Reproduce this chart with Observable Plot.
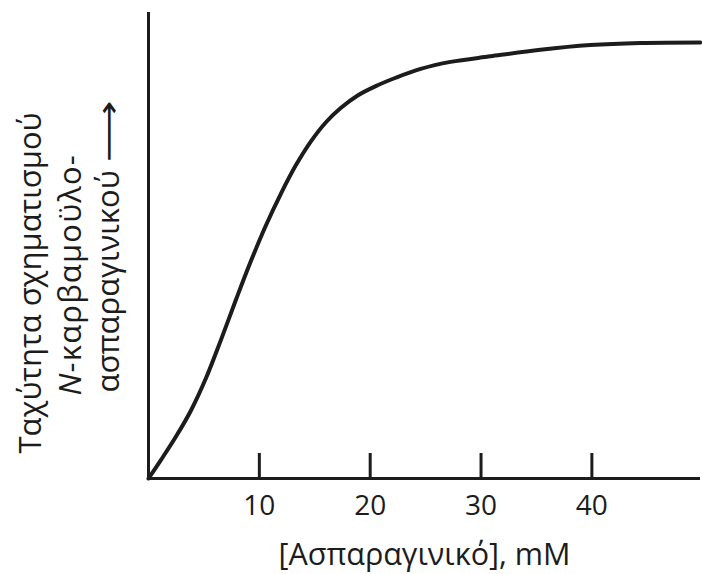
<!DOCTYPE html>
<html>
<head>
<meta charset="utf-8">
<script src="https://cdn.jsdelivr.net/npm/d3@7"></script>
<script src="https://cdn.jsdelivr.net/npm/@observablehq/plot@0.6"></script>
<style>
  html, body { margin: 0; padding: 0; background: #fff; }
</style>
</head>
<body>
<div id="chart"></div>
<script>
// [Asparagine] concentration, mM
const asparagine = [0, 1.13, 2.48, 3.83, 5.18, 6.53, 7.88, 9.23, 10.59, 11.94, 13.29, 14.64, 15.99, 17.34, 18.87, 20.5, 22.3, 24.55, 27.25, 30.86, 35.36, 39.86, 44.37, 49.77];
// Rate of N-carbamoyl-aspartate formation (relative units, axis top = 100)
const rate = [0, 4.0, 9.0, 14.6, 21.5, 29.7, 38.3, 46.6, 54.3, 61.1, 67.2, 72.3, 76.4, 79.5, 82.2, 84.2, 86.0, 87.9, 89.4, 90.6, 92.0, 93.0, 93.45, 93.56];
const xTicks = [10, 20, 30, 40];
const xLabel = "[Ασπαραγινικό], mM";
const yLabelLines = ["Ταχύτητα σχηματισμού", "N-καρβαμοϋλο-", "ασπαραγινικού ⟶"];

const data = asparagine.map((x, i) => ({x, y: rate[i]}));
const ink = "#1c1c1c";

const chart = Plot.plot({
  width: 702,
  height: 574,
  marginLeft: 148,
  marginRight: 2,
  marginTop: 12,
  marginBottom: 96,
  style: {fontFamily: "'Open Sans', 'DejaVu Sans', sans-serif", background: "#fff", color: ink},
  x: {domain: [0, 49.8], axis: null},
  y: {domain: [0, 100], axis: null},
  marks: [
    Plot.axisX(xTicks, {tickSize: 0, tickPadding: 17, fontSize: 28, label: null, fill: ink}),
    Plot.tickX(xTicks, {x: d => d, insetTop: 441, strokeWidth: 3, stroke: ink}),
    Plot.ruleX([0], {strokeWidth: 3, stroke: ink}),
    Plot.ruleY([0], {strokeWidth: 3, stroke: ink}),
    Plot.line(data, {x: "x", y: "y", curve: "catmull-rom", strokeWidth: 4, stroke: ink}),
    Plot.text([xLabel], {text: d => d, frameAnchor: "bottom", lineAnchor: "bottom", dy: 86, fontSize: 30.5, fill: ink}),
    Plot.text([yLabelLines[0]], {text: d => d, frameAnchor: "bottom-left", textAnchor: "start", lineAnchor: "bottom", rotate: -90, dx: -108, dy: -25, fontSize: 31, fill: ink}),
    Plot.text([yLabelLines[1]], {text: d => d, frameAnchor: "bottom-left", textAnchor: "start", lineAnchor: "bottom", rotate: -90, dx: -68, dy: -83, fontSize: 31, fill: ink}),
    Plot.text([yLabelLines[2]], {text: d => d, frameAnchor: "bottom-left", textAnchor: "start", lineAnchor: "bottom", rotate: -90, dx: -30, dy: -86, fontSize: 31, fill: ink})
  ]
});

document.getElementById("chart").appendChild(chart);

// Italic "N" and a long arrow, as in the original label
d3.select(chart).selectAll("text").each(function() {
  const el = d3.select(this);
  const t = this.textContent;
  if (t === yLabelLines[1]) {
    el.text(null);
    el.attr("letter-spacing", "1.2");
    el.append("tspan").attr("font-style", "italic").text("N");
    el.append("tspan").text(t.slice(1));
  } else if (t === yLabelLines[2]) {
    const parts = t.split(" ");
    el.text(null);
    el.append("tspan").text(parts[0] + " ");
    el.append("tspan")
      .attr("font-family", "'DejaVu Sans', sans-serif")
      .attr("textLength", 62)
      .attr("lengthAdjust", "spacingAndGlyphs")
      .text(parts[1]);
  }
});
</script>
</body>
</html>
